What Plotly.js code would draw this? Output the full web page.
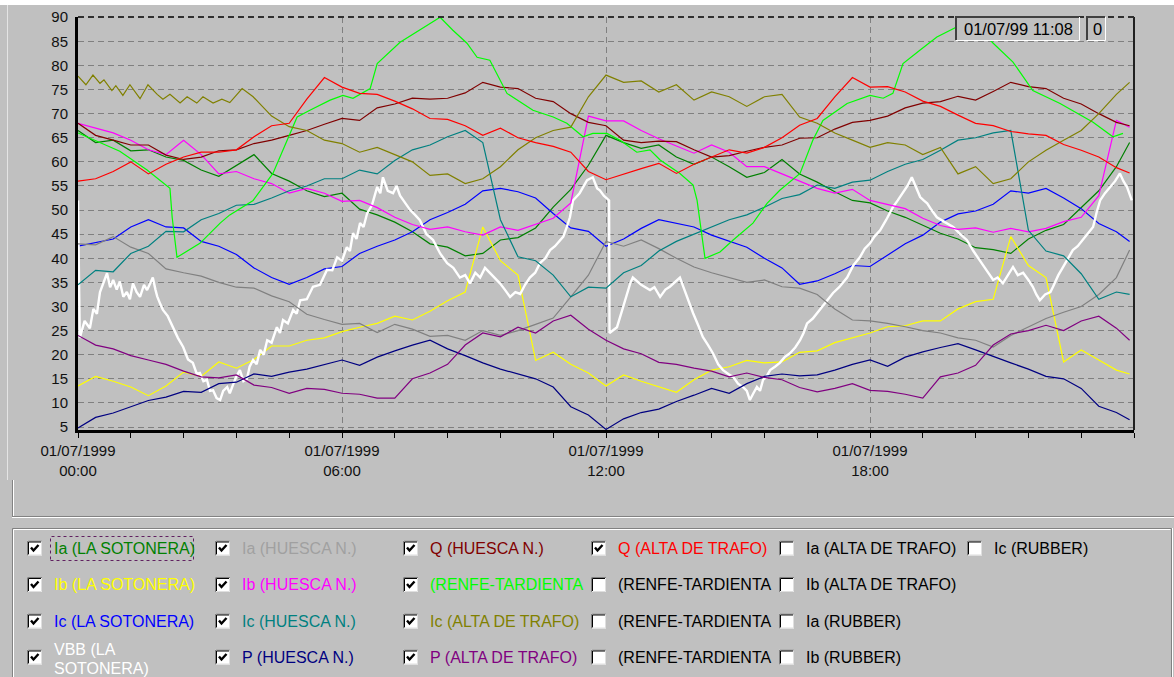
<!DOCTYPE html>
<html>
<head>
<meta charset="utf-8">
<script src="https://cdn.plot.ly/plotly-3.0.1.min.js"></script>
<style>
html,body{margin:0;padding:0;background:#c0c0c0;}
#chart{width:1174px;height:677px;}
</style>
</head>
<body>
<div id="chart"></div>
<script>
// ---------- DATA ----------
const hours = [0,0.4,0.8,1.2,1.6,2,2.4,2.8,3.2,3.6,4,4.4,4.8,5.2,5.6,6,6.4,6.8,7.2,7.6,8,8.4,8.8,9.2,9.6,10,10.4,10.8,11.2,11.6,12,12.4,12.8,13.2,13.6,14,14.4,14.8,15.2,15.6,16,16.4,16.8,17.2,17.6,18,18.4,18.8,19.2,19.6,20,20.4,20.8,21.2,21.6,22,22.4,22.8,23.2,23.6,23.9];

const iaSotonera = [66.5,64,64.5,62.3,62.5,61,60.3,58.3,57,59.2,61.5,57.6,56,54,52.8,53.5,50.2,49,47.5,45.5,43,42.3,40.5,41,43.8,44.3,46.3,50.6,54.3,59.3,65.5,64,62.8,63.5,61,59.5,61,59,56.8,57.8,60.5,57.5,55.8,53.8,52,51.5,49.8,48.5,46.8,45.2,44,42.2,41.8,41,44,45.8,47,50.5,54,59,64];
const ibSotonera = [13.5,15.5,14.5,13.3,11.5,13.5,16.4,15.5,18.5,17.2,19,21.8,21.8,23,23.5,24.8,25.7,26.5,28,27.2,29,31.2,33,46.5,39.5,36.5,18.8,20.5,18,16.2,13.5,15.8,14.5,13.3,12.2,14.8,16.8,17.5,18.8,18.3,18.5,20.5,20.8,22.5,23.5,24.5,25.8,26,27,27,29.5,31,31.5,44.5,38.5,36,18.5,21,18.9,16.8,16];
const icSotonera = [42.5,43.3,44,46.5,48,46.5,46.3,43.5,42.5,40.8,38,36,34.6,36,37.8,38.3,41,42.5,43.8,45.5,48,49.5,51.2,54,54.5,53.8,52.5,49.3,46.3,45.6,42.5,44,46.2,48,47.3,46.5,44.8,43.5,42.3,40,38,34.6,35.3,36.8,38.5,38.3,40.6,43,44.8,47.5,49.2,49.8,51.2,54,53.5,54.5,52.5,50.3,47.2,45.5,43.5];

const vbbHours = [0,0.04,0.15,0.27,0.35,0.43,0.5,0.57,0.66,0.73,0.8,0.88,0.95,1.03,1.11,1.18,1.25,1.33,1.41,1.5,1.57,1.65,1.7,1.76,1.8,1.87,1.93,2.04,2.16,2.27,2.39,2.5,2.61,2.7,2.77,2.85,2.93,3.0,3.07,3.15,3.23,3.3,3.39,3.45,3.52,3.6,3.68,3.76,3.84,3.9,3.98,4.06,4.14,4.22,4.3,4.4,4.52,4.59,4.66,4.77,4.89,4.97,5.05,5.2,5.34,5.5,5.66,5.78,5.89,6.0,6.11,6.18,6.25,6.33,6.41,6.49,6.57,6.68,6.8,6.87,6.93,7.04,7.16,7.24,7.32,7.44,7.55,7.66,7.77,7.92,8.07,8.23,8.39,8.53,8.68,8.8,8.91,9.03,9.14,9.25,9.36,9.47,9.59,9.7,9.82,9.94,10.05,10.16,10.27,10.39,10.5,10.62,10.73,10.84,10.95,11.03,11.11,11.18,11.25,11.4,11.57,11.7,11.8,11.86,11.95,12.07,12.08,12.25,12.39,12.55,12.61,12.8,13.0,13.1,13.23,13.35,13.45,13.57,13.68,13.76,13.84,13.98,14.1,14.2,14.32,14.43,14.55,14.66,14.78,14.89,15.0,15.11,15.2,15.27,15.35,15.43,15.5,15.57,15.65,15.73,15.84,15.95,16.06,16.18,16.3,16.41,16.49,16.57,16.7,16.86,17.0,17.16,17.3,17.48,17.62,17.77,17.88,18.0,18.1,18.23,18.37,18.52,18.63,18.75,18.85,18.95,19.05,19.14,19.22,19.3,19.4,19.52,19.7,19.89,20.05,20.2,20.35,20.5,20.65,20.8,20.9,21.02,21.13,21.25,21.36,21.48,21.6,21.7,21.78,21.86,21.98,22.1,22.16,22.28,22.39,22.5,22.61,22.72,22.84,22.95,23.07,23.15,23.23,23.34,23.45,23.57,23.68,23.76,23.84,23.95];
const vbbSotonera = [52,23.5,27,25.5,29.5,28.5,33,34.8,36.9,34,35.5,33.5,35.2,32,33,31.5,34.8,33,32,34.5,33.4,35,36,33.5,32.1,30.5,29.3,28,25.7,23.5,21.6,19,18.3,16,16.2,14.5,14.8,12.5,12.6,11,10.6,12.5,13.3,12,13.7,15.5,16.8,14.5,15,17.5,18.9,18,21,20,23,22.5,25.7,24.5,27.2,26.5,29.3,28.5,31.3,31.5,34.1,34.5,37.6,37.5,40.2,39.5,42.3,41.5,45.2,44,47.3,46.5,49.3,51,54.8,53.5,56.8,54,53.5,55,53,51.5,50,49,47.9,45,43.8,41,39,38,36,36.5,34.8,37,36,38,37,36,34.8,33.5,32,33,32.6,34.5,36,37,39,40,41.7,42.5,43.8,44.5,46.5,48.5,52,53.5,56.2,56.8,54.5,54.1,53,52,24.5,25.7,29.9,34.8,36,34.5,33.4,34,32,33.5,34.1,35,36,34,32,28.6,26,23.7,22,20.3,18,16.8,16,15.4,14,13.3,12.5,10.6,12,13.3,12.5,14.8,15.5,16.8,17.5,18.3,19.5,20.3,21.5,23,24.5,26.5,27.5,29.3,31,32.8,34,36,38.5,40.2,42,43.1,44.5,45.8,48,50.6,52,53.5,55,56.8,54.5,52.7,52,51.4,50,48.5,47.5,46.5,45,43.8,41.5,39.6,37.5,35.5,36,34.8,36.5,38.2,36.5,37,35.5,34.1,32.5,31.3,32.5,33,34.1,36.5,38.2,40,41.7,42.5,43.8,45,46.5,49.5,52,53.5,54.8,56,57.6,56,54.8,52];

const iaHuesca = [43,42.8,44.5,42.3,41,37.8,37,36.3,35,34,33.8,32.2,31,28.4,27.3,26.3,26.5,24.6,26.3,25.3,23.8,24,23,25,24,25,26.3,27.6,32,36.5,43.5,42.5,43.8,42,40,38.2,37,36,35,35.5,34.1,33.8,32.5,29.5,27.2,27,26.5,25.8,25,24.5,23.5,23,21.6,24,25.7,27.5,28.8,30,32.5,36,41.7];
const ibHuesca = [68,67,66,64.5,62.5,61.5,64.5,61.5,57.5,58,56.5,55.5,53.5,54.5,53.5,51.8,52,50.5,48.5,47,46,46.5,45.5,44.8,46.5,45.8,47,48.3,51.5,69.5,68.5,68.5,66.5,64.8,63.3,61.8,63.5,62,59,59,57.5,56,54.5,53.5,54.3,52,51.2,50.3,48.3,46.8,46,46.3,45.4,46.2,45.5,46.2,47.6,48.5,53,68.6,67.2];
const icHuesca = [34.5,37.5,37.2,41,42.5,45.6,45.5,48,49.3,51,51.2,52.5,54,55,56.5,56.5,58.3,57.5,60.3,62.5,63.5,65.2,66.5,64,48,40.3,39.5,36.5,32,34,33.8,37,38.5,41.5,43.5,45,46.5,48,49,50.6,52.4,53.2,55.2,54.5,55.8,56.2,58,59.5,60.5,62.4,64.5,65,66,66.5,45.8,41.5,40.5,36.8,31.5,33,32.5];
const pHuesca = [4.8,7,7.9,9.2,10.5,11.2,12.4,12.2,14,14.3,16,15.5,16.4,17,18,18.9,17.8,19.5,20.8,22,23,21.2,19.8,18.3,17,16,15,13.3,9.2,7.5,4.5,6.7,8,8.7,10.3,11.6,13,12,14,15.5,16,15.6,15.8,16.8,18,18.9,17.6,19.5,20.6,21.5,22.3,21,19.6,18.3,17,15.5,15,13,9.3,8,6.5];
const qHuesca = [68,65.5,64.5,63.5,63.5,61.4,60.5,61,62.3,62.5,63.8,64.5,65.5,66.5,67.8,69,68.6,71.2,72,73.2,73,73.2,74.3,76.5,75.5,75.2,73.2,72.5,70,68.2,67.5,64.5,64,64.3,64.2,62.5,61,61.3,62.2,63,63.5,64.9,65,66.8,68.2,68.6,69.5,71.2,72.2,72.5,73.6,72.8,74.6,76.5,75.6,75.2,73.2,72,70,68.2,67.5];

const renfeHours = [0,0.73,0.95,1.57,1.93,2.09,2.14,2.25,2.77,3.23,3.45,3.98,4.43,4.75,4.98,5.27,5.73,6.02,6.25,6.64,6.8,7.32,8.23,8.52,8.84,9.07,9.36,9.75,10.34,10.8,11.11,11.48,11.7,12.02,12.32,12.7,13,13.23,13.68,13.98,14.07,14.25,14.59,14.89,15.34,15.66,15.95,16.41,16.7,16.93,17.48,18,18.3,18.52,18.75,19.14,19.52,19.98,20.2,20.5,20.8,21.25,21.7,22.32,23.07,23.52,23.75];
const iaRenfe = [66,63.1,62.2,58.3,55.8,54.5,48.5,40.2,43.1,47.3,49,52,57.6,64.5,69.3,70.7,72.8,73.8,73.2,75.2,80.4,84.8,90,87.3,84.6,81.7,81.1,74.2,70.7,69.3,68,65.2,65.9,65.9,64.5,62,62.5,60.4,57.6,55.2,52,40,41.3,43.8,47.3,51.4,54.1,57.6,64.5,68.6,72.1,73.8,73.2,74.2,80.4,83.2,85.9,88,90,87.5,84.6,80.7,74.8,72.1,68.2,65.2,65.9];

const altaIcHours = [0,0.18,0.34,0.5,0.59,0.77,0.86,1.02,1.18,1.41,1.59,1.8,1.93,2.09,2.32,2.48,2.7,2.84,3.07,3.27,3.45,3.73,3.98,4.4,4.8,5.2,5.6,6,6.4,6.8,7.2,7.6,8,8.4,8.8,9.2,9.6,10,10.4,10.8,11.2,11.6,12,12.4,12.8,13.2,13.6,14,14.4,14.8,15.2,15.6,16,16.4,16.8,17.2,17.6,18,18.4,18.8,19.2,19.6,20,20.4,20.8,21.2,21.6,22,22.4,22.8,23.2,23.6,23.9];
const icAlta = [77.8,76,78,76.3,77,74.8,75.8,73.8,76,73.1,76,74,73,74,72.2,73.5,72.2,73.5,72.2,73,72.3,75.2,73.5,69.5,67.3,66.5,64.5,63.8,62,63,61.5,60,57.2,57.5,55.5,56.5,59,62.5,65,66.5,67.2,73.5,78,76.5,76.8,74.5,76,72.8,74.5,73.5,71.5,73.5,74,69.3,68,66,64.5,63,64,63.5,61.5,63,57.5,59,55.5,56.5,60,62.4,64.5,66.5,70,74,76.5];
const pAlta = [24,22,21.2,19.8,18.9,18,16.6,15.4,15.2,15.8,13.7,13.2,12,13,12.8,12,11.8,11,11,15,16.2,18,22,24.5,23.7,25.7,24.5,27,28.2,25.3,23,21.2,20.2,18.4,18,17.2,16.6,15.4,16.2,15.3,14.8,13.2,12.3,13,14,12.6,12.4,11.8,11,15.4,16.2,17.8,22,24.3,25,26.1,25,27,28,25.5,23];
const qAlta = [56,56.5,58,60,57.5,59.5,61,62,62,62.5,65.2,67.5,68,73,77.5,75.5,74.2,74,72.6,71,69,68.8,67.5,65.5,67,65,64,63.2,62,58,56.3,57.5,58.6,59.7,57.6,59.5,61,62.5,61.8,63,65,67.6,69,73.5,77.5,75.5,75.6,74.5,72.6,71.5,69.7,68,67.5,66.3,65.8,65.5,63.6,62.4,61,58.8,57.7];

const xTickVals = [0, 6, 12, 18];
const xTickText = ['01/07/1999<br>00:00', '01/07/1999<br>06:00', '01/07/1999<br>12:00', '01/07/1999<br>18:00'];
const cursorLabel = '01/07/99 11:08';
const cursorValue = '0';

// legend panel: columns of [label, color, checked]
const legendCol1 = [['Ia (LA SOTONERA)', '#008000', true], ['Ib (LA SOTONERA)', '#ffff00', true], ['Ic (LA SOTONERA)', '#0000ff', true], ['VBB (LA<br>SOTONERA)', '#ffffff', true]];
const legendCol2 = [['Ia (HUESCA N.)', '#a0a0a0', true], ['Ib (HUESCA N.)', '#ff00ff', true], ['Ic (HUESCA N.)', '#008080', true], ['P (HUESCA N.)', '#000080', true]];
const legendCol3 = [['Q (HUESCA N.)', '#800000', true], ['(RENFE-TARDIENTA', '#00ff00', true], ['Ic (ALTA DE TRAFO)', '#808000', true], ['P (ALTA DE TRAFO)', '#800080', true]];
const legendCol4 = [['Q (ALTA DE TRAFO)', '#ff0000', true], ['(RENFE-TARDIENTA', '#000000', false], ['(RENFE-TARDIENTA', '#000000', false], ['(RENFE-TARDIENTA', '#000000', false]];
const legendCol5 = [['Ia (ALTA DE TRAFO)', '#000000', false], ['Ib (ALTA DE TRAFO)', '#000000', false], ['Ia (RUBBER)', '#000000', false], ['Ib (RUBBER)', '#000000', false]];
const legendCol6 = [['Ic (RUBBER)', '#000000', false]];

// ---------- TRACES ----------
const series = [
  {name:'Ia (LA SOTONERA)', x:hours, y:iaSotonera, color:'#008000', w:1.2},
  {name:'Ib (LA SOTONERA)', x:hours, y:ibSotonera, color:'#ffff00', w:1.2},
  {name:'Ic (LA SOTONERA)', x:hours, y:icSotonera, color:'#0000ff', w:1.2},
  {name:'VBB (LA SOTONERA)', x:vbbHours, y:vbbSotonera, color:'#ffffff', w:2.4},
  {name:'Ia (HUESCA N.)', x:hours, y:iaHuesca, color:'#808080', w:1.2},
  {name:'Ib (HUESCA N.)', x:hours, y:ibHuesca, color:'#ff00ff', w:1.2},
  {name:'Ic (HUESCA N.)', x:hours, y:icHuesca, color:'#008080', w:1.2},
  {name:'P (HUESCA N.)', x:hours, y:pHuesca, color:'#000080', w:1.2},
  {name:'Q (HUESCA N.)', x:hours, y:qHuesca, color:'#800000', w:1.2},
  {name:'Ia (RENFE-TARDIENTA)', x:renfeHours, y:iaRenfe, color:'#00ff00', w:1.2},
  {name:'Ic (ALTA DE TRAFO)', x:altaIcHours, y:icAlta, color:'#808000', w:1.2},
  {name:'P (ALTA DE TRAFO)', x:hours, y:pAlta, color:'#800080', w:1.2},
  {name:'Q (ALTA DE TRAFO)', x:hours, y:qAlta, color:'#ff0000', w:1.2}
];
const traces = series.map(s => ({
  type:'scatter', mode:'lines', name:s.name, x:s.x, y:s.y,
  line:{color:s.color, width:s.w}, showlegend:false, hoverinfo:'skip'
}));

// ---------- CHROME (pixel helpers) ----------
const L = 78, R = 1134, T = 17, B = 430;
const px = v => (v - L) / (R - L);
const py = v => (B - v) / (B - T);
const pth = pts => pts.map((p, i) => (i ? 'L' : 'M') + px(p[0]).toFixed(5) + ',' + py(p[1]).toFixed(5)).join(' ');
const shapes = [];
const annotations = [];
function line(pts, color, width, dash) {
  shapes.push({type:'path', xref:'paper', yref:'paper', layer:'above', path:pth(pts),
    line:{color:color, width:width, dash:dash || 'solid'}});
}
function rect(x0, y0, x1, y1, fill) {
  shapes.push({type:'rect', xref:'paper', yref:'paper', layer:'above',
    x0:px(x0), x1:px(x1), y0:py(y1), y1:py(y0), fillcolor:fill, line:{width:0}});
}
function text(x, y, s, color, size, anchor) {
  annotations.push({xref:'paper', yref:'paper', x:px(x), y:py(y), text:s, showarrow:false,
    xanchor:anchor || 'left', yanchor:'middle', align:'left',
    font:{family:'Liberation Sans, Arial, sans-serif', size:size, color:color}});
}

// top white strip and left edge
rect(0, 0, 1174, 5, '#ffffff');
line([[7.5, 5], [7.5, 480]], '#e4e4e4', 1);
// plot frame: right edge and top dashed line
line([[R, T], [R, B]], '#202020', 2);
line([[L, T], [R, T]], '#303030', 2, '6px,4px');

// cursor date box
rect(956, 17, 1079, 40, '#c0c0c0');
line([[956, 40], [956, 17], [1079, 17]], '#404040', 2);
line([[956, 40.5], [1079.5, 40.5], [1079.5, 17]], '#ffffff', 1);
text(962, 29, cursorLabel, '#000000', 16.5);
rect(1087, 17, 1105, 40, '#c0c0c0');
line([[1087, 40], [1087, 17], [1105, 17]], '#404040', 2);
line([[1087, 40.5], [1105.5, 40.5], [1105.5, 17]], '#ffffff', 1);
text(1091, 29, cursorValue, '#000000', 16.5);

// lower panel separators
line([[12.5, 480], [12.5, 516]], '#808080', 1);
line([[13.5, 480], [13.5, 516]], '#ffffff', 1);
line([[12, 516.5], [1174, 516.5]], '#808080', 1);
line([[12, 517.5], [1174, 517.5]], '#ffffff', 1);
// legend group box
line([[12.5, 690], [12.5, 528.5], [1171.5, 528.5], [1171.5, 690]], '#808080', 1);
line([[13.5, 690], [13.5, 529.5], [1170.5, 529.5]], '#ffffff', 1);
line([[1172.5, 528], [1172.5, 690]], '#ffffff', 1);

// legend entries
const rowY = [548, 584.5, 621, 657];
const colX = [27, 215, 403, 591, 779, 967];
[legendCol1, legendCol2, legendCol3, legendCol4, legendCol5, legendCol6].forEach((col, ci) => {
  col.forEach((entry, ri) => {
    const bx = colX[ci], by = rowY[ri] - 7.5;
    rect(bx, by, bx + 15, by + 15, '#ffffff');
    line([[bx + 0.5, by + 15], [bx + 0.5, by + 0.5], [bx + 15, by + 0.5]], '#808080', 1);
    line([[bx + 1.5, by + 14], [bx + 1.5, by + 1.5], [bx + 14, by + 1.5]], '#000000', 1);
    line([[bx + 1.5, by + 14.5], [bx + 14.5, by + 14.5], [bx + 14.5, by + 1.5]], '#dfdfdf', 1);
    if (entry[2]) {
      line([[bx + 4, by + 7], [bx + 6.5, by + 10], [bx + 11.5, by + 4.5]], '#000000', 2.4);
    }
    const label = entry[0];
    if (label.indexOf('<br>') >= 0) {
      const parts = label.split('<br>');
      text(bx + 25, rowY[ri] - 8, parts[0], entry[1], 16);
      text(bx + 25, rowY[ri] + 11, parts[1], entry[1], 16);
    } else {
      text(bx + 25, rowY[ri], label, entry[1], 16);
    }
  });
});
// focus rectangle around first legend label
shapes.push({type:'rect', xref:'paper', yref:'paper', layer:'above',
  x0:px(50.5), x1:px(193.5), y0:py(560.5), y1:py(536.5),
  line:{color:'#602060', width:1, dash:'dot'}});

// ---------- LAYOUT ----------
const font = {family:'Liberation Sans, Arial, sans-serif', size:15, color:'#111111'};
const layout = {
  width:1174, height:677,
  margin:{l:L, r:1174 - R, t:T, b:677 - B, pad:0},
  paper_bgcolor:'#c0c0c0', plot_bgcolor:'#c0c0c0',
  font:font,
  showlegend:false,
  hovermode:false,
  xaxis:{
    range:[0, 24], tickmode:'array', tickvals:xTickVals, ticktext:xTickText,
    ticks:'outside', ticklen:5, tickwidth:1, tickcolor:'#000',
    showgrid:true, gridcolor:'#808080', gridwidth:1, griddash:'6px,4px',
    showline:true, linecolor:'#000', linewidth:3, zeroline:false,
    tickfont:font, fixedrange:true,
    minor:{tickmode:'linear', tick0:0, dtick:1.2, ticks:'outside', ticklen:5, tickwidth:1, tickcolor:'#000', showgrid:false}
  },
  yaxis:{
    range:[4.38, 90.05], tickmode:'linear', tick0:5, dtick:5,
    ticks:'', showgrid:true, gridcolor:'#808080', gridwidth:1, griddash:'6px,4px',
    showline:true, linecolor:'#000', linewidth:3, zeroline:false,
    tickfont:font, ticklabelstandoff:4, fixedrange:true
  },
  shapes:shapes,
  annotations:annotations
};

Plotly.newPlot('chart', traces, layout, {staticPlot:true, displayModeBar:false});
</script>
</body>
</html>
